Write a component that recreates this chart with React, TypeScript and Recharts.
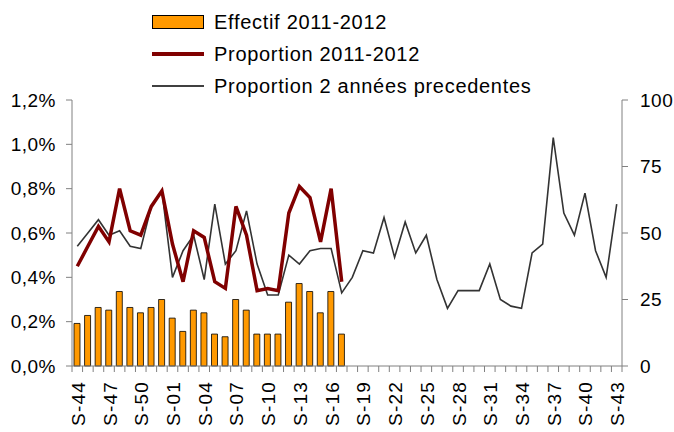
import { ComposedChart, Bar, Line, XAxis, YAxis } from "recharts";

// weeks S-44 .. S-52 then S-01 .. S-43
const weeks = [
  "S-44", "S-45", "S-46", "S-47", "S-48", "S-49", "S-50", "S-51", "S-52",
  "S-01", "S-02", "S-03", "S-04", "S-05", "S-06", "S-07", "S-08", "S-09", "S-10",
  "S-11", "S-12", "S-13", "S-14", "S-15", "S-16", "S-17", "S-18", "S-19", "S-20",
  "S-21", "S-22", "S-23", "S-24", "S-25", "S-26", "S-27", "S-28", "S-29", "S-30",
  "S-31", "S-32", "S-33", "S-34", "S-35", "S-36", "S-37", "S-38", "S-39", "S-40",
  "S-41", "S-42", "S-43",
];

// effectif 2011-2012 (right axis), stops at S-17
const effectif = [
  16, 19, 22, 21, 28, 22, 20, 22, 25,
  18, 13, 21, 20, 12, 11, 25, 21, 12, 12,
  12, 24, 31, 28, 20, 28, 12,
];

// proportion 2011-2012 (left axis, fraction)
const proportion = [
  0.0045, 0.0054, 0.0063, 0.0056, 0.008, 0.0061, 0.0059, 0.0072, 0.0079,
  0.0055, 0.0038, 0.0061, 0.0058, 0.0038, 0.0035, 0.0072, 0.0059, 0.0034, 0.0035,
  0.0034, 0.0069, 0.0081, 0.0076, 0.0056, 0.008, 0.0038,
];

// proportion des 2 années précédentes
const proportionPrev = [
  0.0054, 0.006, 0.0066, 0.0059, 0.0061, 0.0054, 0.0053, 0.0072, 0.0079,
  0.004, 0.0052, 0.0059, 0.0039, 0.0073, 0.0046, 0.0052, 0.007, 0.0046, 0.0032,
  0.0032, 0.005, 0.0046, 0.0052, 0.0053, 0.0053, 0.0033, 0.004, 0.0052, 0.0051,
  0.0067, 0.0049, 0.0065, 0.0051, 0.0059, 0.0039, 0.0026, 0.0034, 0.0034, 0.0034,
  0.0046, 0.003, 0.0027, 0.0026, 0.0051, 0.0055, 0.0103, 0.0069, 0.0059, 0.0078,
  0.0052, 0.004, 0.0073,
];

const leftTicks = [0, 0.002, 0.004, 0.006, 0.008, 0.01, 0.012];
const rightTicks = [0, 25, 50, 75, 100];

const data = weeks.map((w, i) => ({
  week: w,
  effectif: effectif[i] ?? null,
  proportion: proportion[i] ?? null,
  prev: proportionPrev[i] ?? null,
}));

const W = 674;
const H = 432;
const LEFT_W = 72;
const RIGHT_W = 52;
const step = (W - LEFT_W - RIGHT_W) / weeks.length;
const font = "'Liberation Sans', Arial, sans-serif";
const axisGray = "#808080";

const fmtPct = (v: number) => (v * 100).toFixed(1).replace(".", ",") + "%";

function WeekTick(props: any) {
  const { x, y, payload, index } = props;
  const bx = x - step / 2;
  return (
    <g>
      <line x1={bx} y1={y} x2={bx} y2={y + 6} stroke={axisGray} />
      {index === weeks.length - 1 && (
        <line x1={x + step / 2} y1={y} x2={x + step / 2} y2={y + 6} stroke={axisGray} />
      )}
      {index % 3 === 0 && (
        <text
          x={x + 1}
          y={y + 15}
          transform={`rotate(-90 ${x + 1} ${y + 15})`}
          textAnchor="end"
          dominantBaseline="central"
          fontSize={19}
          letterSpacing={1.2}
          fontFamily={font}
          fill="#000"
        >
          {payload.value}
        </text>
      )}
    </g>
  );
}

function ChartLegend() {
  const row = { display: "flex", alignItems: "center", height: 32 } as const;
  const label = {
    marginLeft: 10,
    fontSize: 20,
    letterSpacing: 0.7,
    fontFamily: font,
    color: "#000",
    whiteSpace: "nowrap",
  } as const;
  return (
    <div style={{ position: "absolute", left: 152, top: 6 }}>
      <div style={row}>
        <div style={{ width: 50, height: 12, background: "#FF9900", border: "1px solid #000" }} />
        <span style={label}>Effectif 2011-2012</span>
      </div>
      <div style={row}>
        <div style={{ width: 52, height: 4, background: "#800000" }} />
        <span style={label}>Proportion 2011-2012</span>
      </div>
      <div style={row}>
        <div style={{ width: 52, height: 2, background: "#404040" }} />
        <span style={label}>Proportion 2 années precedentes</span>
      </div>
    </div>
  );
}

export default function App() {
  const tickStyle = { fontSize: 19, fontFamily: font, fill: "#000", letterSpacing: 0.5 };
  return (
    <div style={{ position: "absolute", left: 0, top: 0, width: W, height: H, background: "#fff" }}>
      <ComposedChart
        width={W}
        height={H}
        data={data}
        margin={{ top: 100, right: 0, bottom: 0, left: 0 }}
      >
        <XAxis
          dataKey="week"
          interval={0}
          height={66}
          tickSize={0}
          tickMargin={0}
          tickLine={false}
          tick={<WeekTick />}
          axisLine={{ stroke: axisGray }}
        />
        <YAxis
          yAxisId="left"
          width={LEFT_W}
          domain={[0, 0.012]}
          ticks={leftTicks}
          tickFormatter={fmtPct}
          tick={tickStyle}
          tickMargin={10}
          axisLine={{ stroke: axisGray }}
          tickLine={{ stroke: axisGray }}
        />
        <YAxis
          yAxisId="right"
          orientation="right"
          width={RIGHT_W}
          domain={[0, 100]}
          ticks={rightTicks}
          tick={{ ...tickStyle, textAnchor: "start" }}
          tickMargin={12}
          axisLine={{ stroke: axisGray }}
          tickLine={{ stroke: axisGray }}
        />
        <Bar
          yAxisId="right"
          dataKey="effectif"
          barSize={6}
          fill="#FF9900"
          stroke="#000"
          strokeWidth={0.8}
          isAnimationActive={false}
        />
        <Line
          yAxisId="left"
          dataKey="prev"
          stroke="#333333"
          strokeWidth={1.6}
          dot={false}
          activeDot={false}
          isAnimationActive={false}
        />
        <Line
          yAxisId="left"
          dataKey="proportion"
          stroke="#800000"
          strokeWidth={3.5}
          dot={false}
          activeDot={false}
          isAnimationActive={false}
        />
      </ComposedChart>
      <ChartLegend />
    </div>
  );
}
